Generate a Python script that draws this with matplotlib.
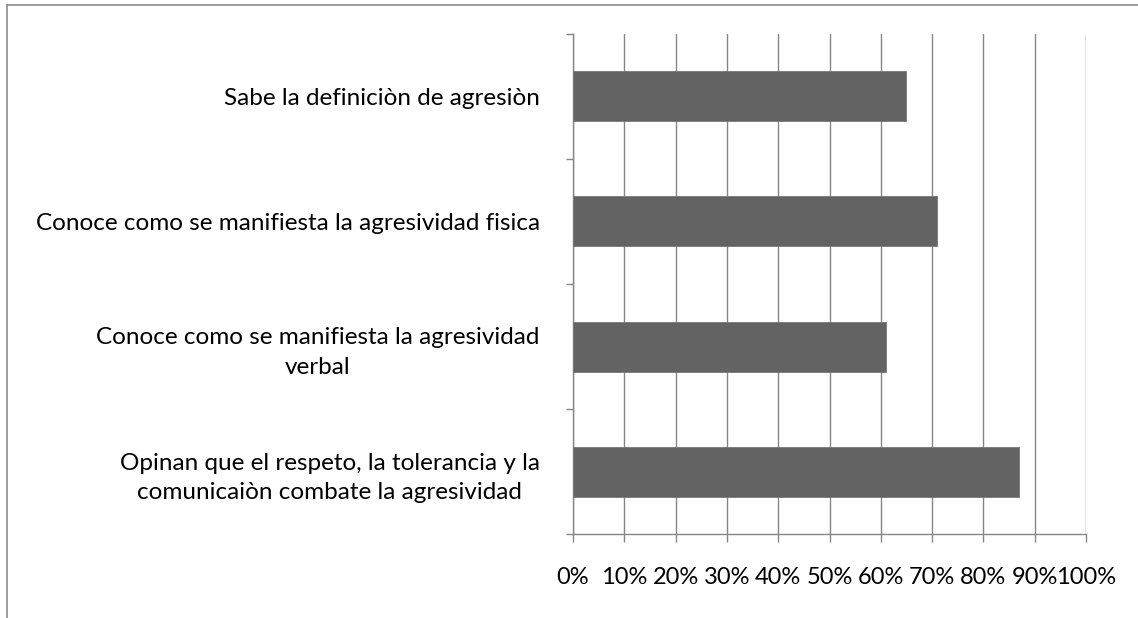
import matplotlib
matplotlib.use('Agg')
import matplotlib.pyplot as plt
from matplotlib.lines import Line2D

# Data
categories = [
    'Sabe la definiciòn de agresiòn',
    'Conoce como se manifiesta la agresividad fisica',
    'Conoce como se manifiesta la agresividad\nverbal',
    'Opinan que el respeto, la tolerancia y la\ncomunicaiòn combate la agresividad',
]
values = [0.65, 0.71, 0.61, 0.87]
x_ticks = [0, 0.1, 0.2, 0.3, 0.4, 0.5, 0.6, 0.7, 0.8, 0.9, 1.0]
x_labels = ['0%', '10%', '20%', '30%', '40%', '50%', '60%', '70%', '80%', '90%', '100%']

plt.rcParams['font.family'] = ['Lato', 'DejaVu Sans']

W, H = 1138, 618
fig = plt.figure(figsize=(W / 100, H / 100), dpi=100)
ax = fig.add_axes([573 / W, (H - 534) / H, (1086 - 573) / W, 500 / H])

# top to bottom order
ypos = list(range(len(categories) - 1, -1, -1))
ax.barh(ypos, values, height=0.4, color='#636363', edgecolor='#777777', linewidth=0.6, zorder=3)

ax.set_xlim(0, 1)
ax.set_ylim(-0.5, len(categories) - 0.5)
ax.set_xticks(x_ticks)
ax.set_xticklabels(x_labels, fontsize=17)
ax.set_yticks(ypos)
ax.set_yticklabels(categories, fontsize=17.5)
for lab in ax.get_yticklabels():
    lab.set_multialignment('center')
    lab.set_linespacing(1.5)
ax.set_yticks([y - 0.5 for y in range(len(categories) + 1)], minor=True)

ax.tick_params(axis='y', which='major', length=0, pad=24)
ax.tick_params(axis='y', which='minor', length=5, width=1, color='#868686', direction='out')
ax.tick_params(axis='x', length=6, width=1, color='#868686', direction='out', pad=18)

ax.grid(axis='x', color='#868686', linewidth=1.0, zorder=0)
ax.set_axisbelow(True)
for s in ['top', 'right']:
    ax.spines[s].set_visible(False)
for s in ['left', 'bottom']:
    ax.spines[s].set_color('#868686')
    ax.spines[s].set_linewidth(1.0)

# chart frame (cropped: only top and left edges visible)
fig.add_artist(Line2D([7 / W, 7 / W], [0, 1 - 5 / H], transform=fig.transFigure, color='#8c8c8c', linewidth=1.2))
fig.add_artist(Line2D([7 / W, 1], [1 - 5 / H, 1 - 5 / H], transform=fig.transFigure, color='#8c8c8c', linewidth=1.2))

fig.savefig('out.png', dpi=100)
